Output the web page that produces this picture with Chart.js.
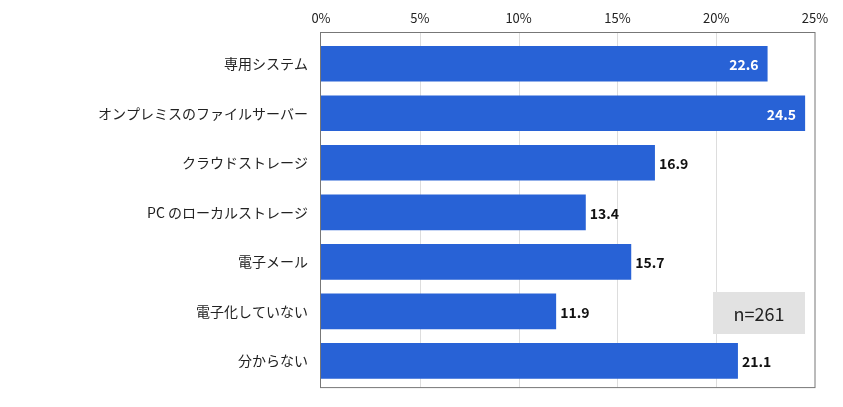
<!DOCTYPE html>
<html>
<head>
<meta charset="utf-8">
<script src="https://cdn.jsdelivr.net/npm/chart.js@4"></script>
<style>
  html, body { margin: 0; padding: 0; background: #fff; }
  #wrap { width: 843px; height: 407px; }
</style>
</head>
<body>
<div id="wrap"><canvas id="storageChart"></canvas></div>
<script>
// データ
const categories = ['専用システム', 'オンプレミスのファイルサーバー', 'クラウドストレージ', 'PC のローカルストレージ', '電子メール', '電子化していない', '分からない'];
const rates = [22.6, 24.5, 16.9, 13.4, 15.7, 11.9, 21.1];
const tickValues = [0, 5, 10, 15, 20, 25];
const sampleNote = 'n=261';

const FONT = '"Noto Sans CJK JP", "Noto Sans", sans-serif';
const BAR_COLOR = '#2862d6';

// 枠線・グリッド・数値ラベル・n表示
const decorPlugin = {
  id: 'decor',
  beforeDatasetsDraw(chart) {
    const ctx = chart.ctx;
    const x = chart.scales.x;
    const a = chart.chartArea;
    ctx.save();
    ctx.strokeStyle = '#dddddd';
    ctx.lineWidth = 1;
    tickValues.forEach(function(v){
      if (v === 0 || v === 25) return;
      const px = Math.round(x.getPixelForValue(v)) + 0.5;
      ctx.beginPath();
      ctx.moveTo(px, a.top - 6);
      ctx.lineTo(px, a.bottom + 2);
      ctx.stroke();
    });
    ctx.restore();
  },
  afterDatasetsDraw(chart) {
    const ctx = chart.ctx;
    const a = chart.chartArea;
    ctx.save();
    // 枠
    ctx.strokeStyle = '#777777';
    ctx.lineWidth = 1;
    ctx.strokeRect(a.left - 0.5, a.top - 6.5, a.right - a.left + 0.5, a.bottom - a.top + 8.5);

    // 数値
    const meta = chart.getDatasetMeta(0);
    ctx.font = 'bold 14px ' + FONT;
    ctx.textBaseline = 'middle';
    meta.data.forEach(function(bar, i){
      const v = rates[i];
      const txt = v.toFixed(1);
      if (v >= 22) {
        ctx.fillStyle = '#ffffff';
        ctx.textAlign = 'right';
        ctx.fillText(txt, bar.x - 9, bar.y + 1);
      } else {
        ctx.fillStyle = '#111111';
        ctx.textAlign = 'left';
        ctx.fillText(txt, bar.x + 4, bar.y + 1);
      }
    });

    // n=261
    const bx = a.right - 102, by = 292, bw = 92, bh = 42;
    ctx.fillStyle = '#e2e2e2';
    ctx.fillRect(bx, by, bw, bh);
    ctx.fillStyle = '#222222';
    ctx.font = '18px ' + FONT;
    ctx.textAlign = 'center';
    ctx.fillText(sampleNote, bx + bw / 2, by + bh / 2 + 1);
    ctx.restore();
  }
};

const data = {
  labels: categories,
  datasets: [{
    label: '割合',
    data: rates,
    backgroundColor: BAR_COLOR,
    borderWidth: 0,
    barPercentage: 0.72,
    categoryPercentage: 1.0
  }]
};

const config = {
  type: 'bar',
  data: data,
  options: {
    indexAxis: 'y',
    responsive: true,
    maintainAspectRatio: false,
    animation: { duration: 0 },
    layout: { padding: { left: 0, right: 28, top: 0, bottom: 18 } },
    plugins: {
      legend: { display: false },
      tooltip: { enabled: false }
    },
    scales: {
      x: {
        position: 'top',
        min: 0,
        max: 25,
        afterBuildTicks: function(scale){
          scale.ticks = tickValues.map(function(v){ return { value: v }; });
        },
        afterFit: function(scale){ scale.height = 39; },
        grid: { display: false, drawTicks: false },
        border: { display: false },
        ticks: {
          padding: 13,
          color: '#222222',
          font: { family: FONT, size: 13 },
          callback: function(v){ return v + '%'; }
        }
      },
      y: {
        afterFit: function(scale){ scale.width = 321; },
        grid: { display: false, drawTicks: false },
        border: { display: false },
        ticks: {
          padding: 13,
          color: '#222222',
          font: { family: FONT, size: 14 }
        }
      }
    }
  },
  plugins: [decorPlugin]
};

var ctx = document.getElementById('storageChart').getContext('2d');
var storageChart = new Chart(ctx, config);
</script>
</body>
</html>
